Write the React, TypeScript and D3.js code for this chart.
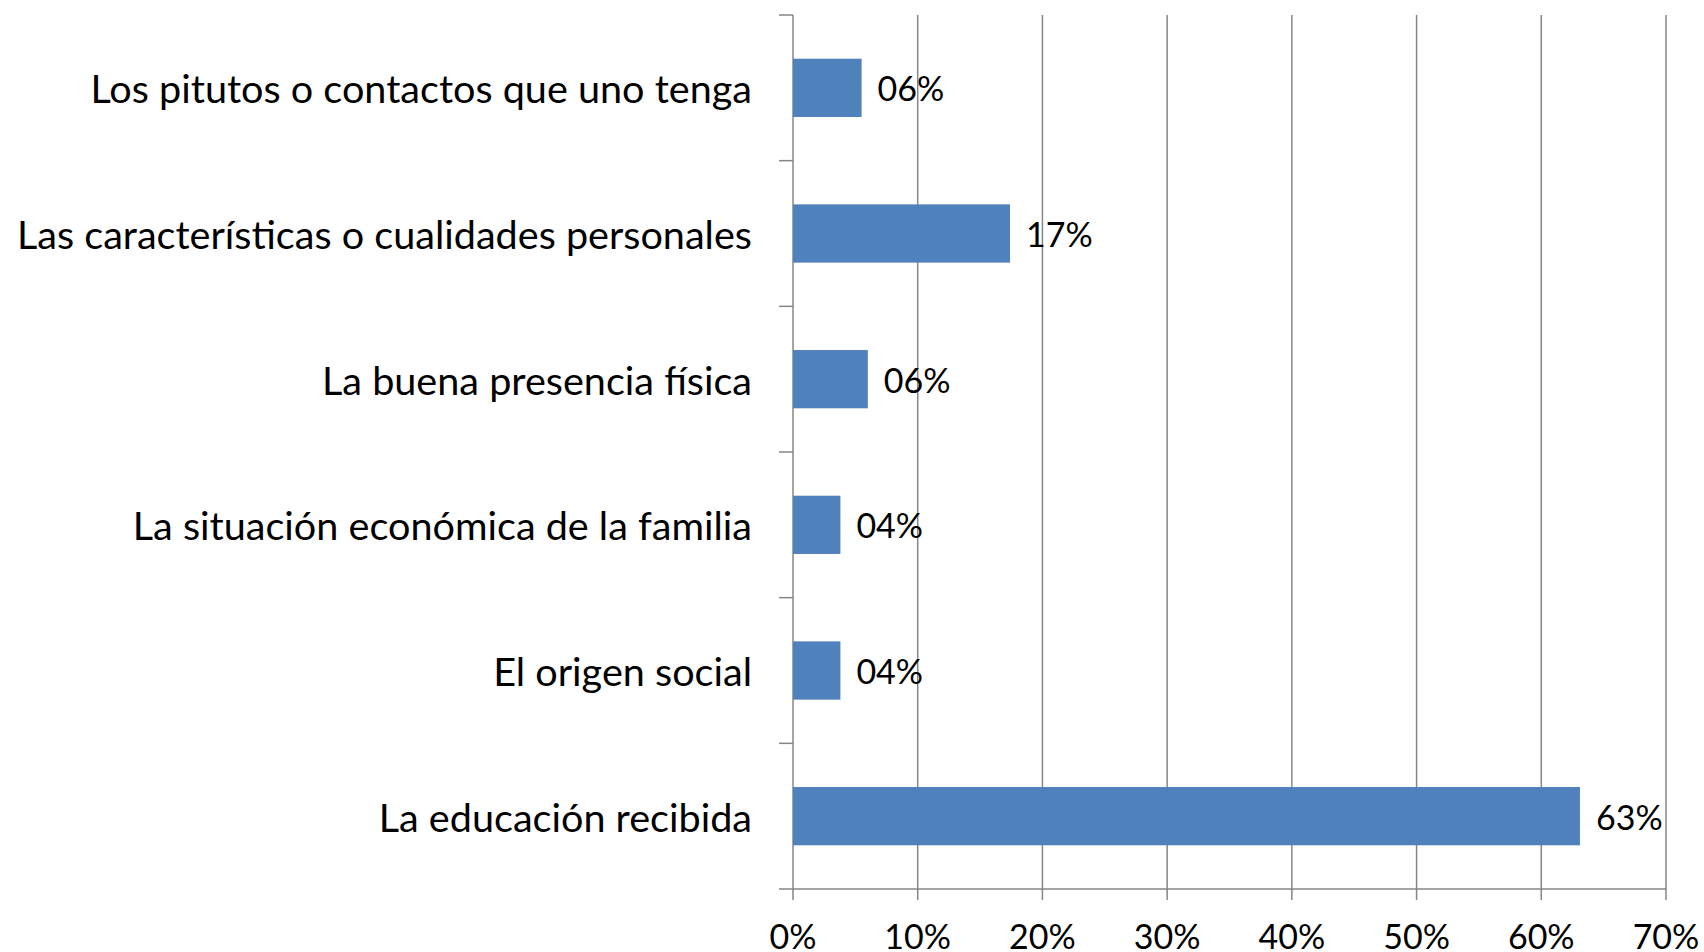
import React from "react";
import * as d3 from "d3";

const categories = [
  "Los pitutos o contactos que uno tenga",
  "Las características o cualidades personales",
  "La buena presencia física",
  "La situación económica de la familia",
  "El origen social",
  "La educación recibida",
];
const values = [0.055, 0.174, 0.06, 0.038, 0.038, 0.631];
const valueLabels = ["06%", "17%", "06%", "04%", "04%", "63%"];
const xTicks = [0, 0.1, 0.2, 0.3, 0.4, 0.5, 0.6, 0.7];

const W = 1704;
const H = 952;
const left = 793;
const right = 1666;
const top = 15;
const bottom = 889;
const FONT = "Lato, 'Open Sans', sans-serif";

export default function App() {
  const x = d3.scaleLinear().domain([0, 0.7]).range([left, right]);
  const y = d3.scaleBand().domain(categories).range([top, bottom]).paddingInner(0.6).paddingOuter(0.3);
  const band = d3.scaleBand().domain(categories).range([top, bottom]);
  const fmt = d3.format(".0%");
  const grid = "#868686";
  return (
    <svg width={W} height={H} style={{ position: "absolute", left: 0, top: 0, background: "#fff" }}>
      {xTicks.map((t) => (
        <line key={"g" + t} x1={x(t)} x2={x(t)} y1={top} y2={bottom + 11} stroke={grid} strokeWidth={1.5} />
      ))}
      <line x1={left - 14} x2={right} y1={bottom} y2={bottom} stroke={grid} strokeWidth={1.5} />
      {categories.map((c) => (
        <line key={"t" + c} x1={left - 14} x2={left} y1={band(c)!} y2={band(c)!} stroke={grid} strokeWidth={1.5} />
      ))}
      {categories.map((c, i) => (
        <g key={c}>
          <rect x={x(0)} y={y(c)!} width={x(values[i]) - x(0)} height={y.bandwidth()} fill="#4F81BD" />
          <text
            x={x(values[i]) + 16}
            y={y(c)! + y.bandwidth() / 2}
            dominantBaseline="central"
            fontFamily={FONT}
            fontSize={34}
            fill="#000"
          >
            {valueLabels[i]}
          </text>
          <text
            x={752}
            y={y(c)! + y.bandwidth() / 2}
            dominantBaseline="central"
            textAnchor="end"
            fontFamily={FONT}
            fontSize={39.6}
            fill="#000"
          >
            {c}
          </text>
        </g>
      ))}
      {xTicks.map((t) => (
        <text key={"l" + t} x={x(t)} y={935} textAnchor="middle" dominantBaseline="central" fontFamily={FONT} fontSize={34} fill="#000">
          {fmt(t)}
        </text>
      ))}
    </svg>
  );
}
